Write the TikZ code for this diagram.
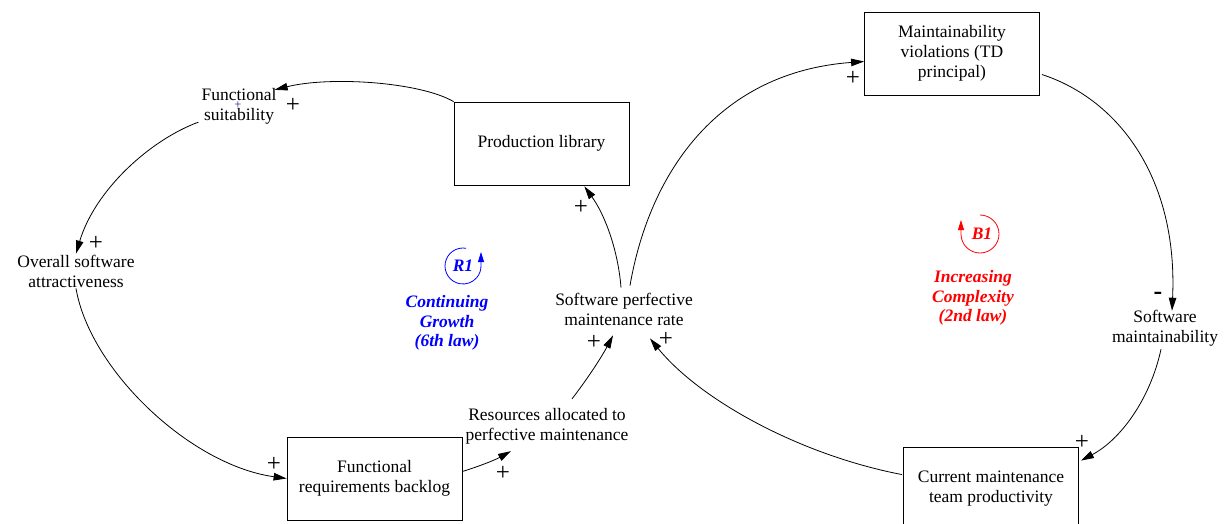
\documentclass[tikz,border=0pt]{standalone}
\usepackage{fontspec}
\setmainfont{Liberation Serif}
\usetikzlibrary{arrows.meta}
\definecolor{loopblue}{RGB}{0,0,255}
\definecolor{loopred}{RGB}{255,0,0}
\definecolor{navy}{RGB}{20,20,120}
\begin{document}
\begin{tikzpicture}[x=1pt,y=-1pt,
  every node/.style={font=\fontsize{17.5}{20}\selectfont},
  var/.style={align=center,inner sep=1pt},
  stock/.style={draw,line width=0.8pt,align=center,minimum width=175pt,minimum height=83pt,inner sep=2pt},
  link/.style={line width=0.8pt,-{Triangle[length=13pt,width=7.5pt]}},
  pol/.style={font=\fontsize{25}{25}\selectfont,inner sep=0pt},
  looparc/.style={line width=0.8pt,-{Triangle[length=10pt,width=6pt]}},
  looptext/.style={font=\fontsize{17.5}{19.5}\selectfont\bfseries\itshape,align=center,inner sep=0pt}]
\useasboundingbox (0,0) rectangle (1227,524);

% stocks
\node[stock] (pl) at (541.5,143.5) {Production library};
\node[stock] (frb) at (374.5,478.5) {Functional\\requirements backlog};
\node[stock] (mv) at (952,53.5) {Maintainability\\violations (TD\\principal)};
\node[stock] (cmtp) at (991,488.5) {Current maintenance\\team productivity};

% auxiliary variables
\node[var] (fs) at (239,106) {Functional\\suitability};
\node[var] (osa) at (76,271) {Overall software\\attractiveness};
\node[var] (res) at (547,426) {Resources allocated to\\perfective maintenance};
\node[var] (spmr) at (624,309) {Software perfective\\maintenance rate};
\node[var] (sm) at (1165,328) {Software\\maintainability};

% causal links
\draw[link] (pl.north west) .. controls (420,82) and (330,76) .. ([xshift=-3pt,yshift=-3pt]fs.north east);
\draw[link] ([xshift=-2pt,yshift=3pt]fs.south west) .. controls (150,140) and (95,190) .. (osa.north);
\draw[link] (osa.south) .. controls (90,370) and (190,465) .. (frb.west);
\draw[link] ([yshift=7pt]frb.east) .. controls (480,466) and (495,460) .. ([xshift=-36pt,yshift=-6pt]res.south);
\draw[link] ([xshift=25pt,yshift=8pt]res.north) .. controls (585,382) and (600,360) .. ([xshift=-11pt,yshift=-9pt]spmr.south);
\draw[link] ([xshift=-3pt,yshift=4pt]spmr.north) .. controls (618,250) and (605,215) .. ([xshift=-45pt,yshift=-1pt]pl.south east);
\draw[link] ([xshift=6pt,yshift=6pt]spmr.north) .. controls (650,170) and (720,72) .. ([yshift=-8pt]mv.west);
\draw[link] ([xshift=2pt,yshift=-21pt]mv.east) .. controls (1120,100) and (1178,180) .. ([xshift=7pt,yshift=-2pt]sm.north);
\draw[link] ([xshift=-4pt,yshift=-2pt]sm.south) .. controls (1150,400) and (1120,440) .. ([xshift=2pt,yshift=-14pt]cmtp.north east);
\draw[link] ([xshift=-1pt,yshift=-28pt]cmtp.north west) .. controls (800,455) and (700,400) .. ([xshift=26pt,yshift=-12pt]spmr.south);

% link polarities
\node[pol] (p1) at (293,105) {+};
\node[pol,font=\fontsize{12}{12}\selectfont,text=navy] (p1b) at (238,105) {+};
\node[pol] (p2) at (96,243) {+};
\node[pol] (p3) at (274,464) {+};
\node[pol] (p4) at (503,473) {+};
\node[pol] (p5) at (594,342) {+};
\node[pol] (p6) at (581,207) {+};
\node[pol] (p7) at (853,78) {+};
\node[pol,font=\fontsize{26}{26}\selectfont\bfseries] (p8) at (1158,296) {-};
\node[pol] (p9) at (1082,442) {+};
\node[pol] (p10) at (666,339) {+};

% reinforcing loop R1
\draw[looparc,loopblue] (463,266) ++(-80:18) arc[start angle=-80,end angle=-360,radius=18] -- ++(0,-14);
\node[looptext,text=loopblue] (r1) at (463,266) {R1};
\node[looptext,text=loopblue] (r1name) at (447,323) {Continuing\\Growth\\(6th law)};

% balancing loop B1
\draw[looparc,loopred] (980,234) ++(-90:19) arc[start angle=-90,end angle=180,radius=19] -- ++(0,-14);
\node[looptext,text=loopred] (b1) at (982,234) {B1};
\node[looptext,text=loopred] (b1name) at (973,298) {Increasing\\Complexity\\(2nd law)};
\end{tikzpicture}
\end{document}
